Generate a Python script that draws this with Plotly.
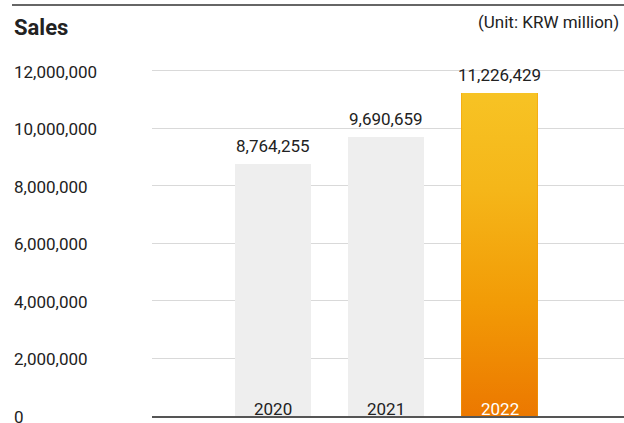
import plotly.graph_objects as go

# data
years = [2020, 2021, 2022]
sales = [8764255, 9690659, 11226429]
tick_vals = [0, 2000000, 4000000, 6000000, 8000000, 10000000, 12000000]

GRAY_BAR = "#EEEEEE"
TEXT = "#222222"
FONT = "Roboto, sans-serif"
GRAD = [[0, "#EC7800"], [0.35, "#F29B06"], [0.7, "#F5B619"], [1, "#F7C324"]]

BAR_W = 0.67
L_MARGIN, R_MARGIN, T_MARGIN, B_MARGIN = 152, 0, 50, 7
W, H = 624, 423
plot_w = W - L_MARGIN - R_MARGIN
plot_h = H - T_MARGIN - B_MARGIN

fig = go.Figure()

fig.add_trace(go.Bar(
    x=years, y=sales, width=BAR_W,
    marker=dict(color=[GRAY_BAR, GRAY_BAR, "#F29B06"], line=dict(width=0)),
    hoverinfo="skip", showlegend=False,
))

# gradient overlay for the latest year
gx, gv = years[-1], sales[-1]
fig.add_trace(go.Scatter(
    x=[gx - BAR_W / 2, gx - BAR_W / 2, gx + BAR_W / 2, gx + BAR_W / 2, gx - BAR_W / 2],
    y=[0, gv, gv, 0, 0],
    mode="lines", fill="toself", line=dict(width=0),
    fillgradient=dict(type="vertical", colorscale=GRAD, start=0, stop=gv),
    hoverinfo="skip", showlegend=False,
))

# value labels above bars
for yr, v in zip(years, sales):
    fig.add_annotation(x=yr, y=v, text=f"{v:,}", showarrow=False, yanchor="bottom", yshift=6,
                       font=dict(size=17, color=TEXT, family=FONT))

# year labels inside the bars
for yr in years:
    fig.add_annotation(x=yr, y=0, text=str(yr), showarrow=False, yanchor="bottom", yshift=-5,
                       font=dict(size=17, color="white" if yr == years[-1] else TEXT, family=FONT))

# left-aligned y tick labels
x_lbl = (12 - L_MARGIN) / plot_w
for t in tick_vals:
    fig.add_annotation(x=x_lbl, xref="paper", y=t, yref="y", text=f"{t:,}", showarrow=False,
                       xanchor="left", yanchor="middle", yshift=-1,
                       font=dict(size=17, color=TEXT, family=FONT))

# header
fig.add_annotation(x=x_lbl, xref="paper", y=(H - B_MARGIN - 27) / plot_h, yref="paper",
                   text="<b>Sales</b>", showarrow=False, xanchor="left", yanchor="middle",
                   font=dict(size=22, color=TEXT, family=FONT))
fig.add_annotation(x=(621 - L_MARGIN) / plot_w, xref="paper", y=(H - B_MARGIN - 22) / plot_h, yref="paper",
                   text="(Unit: KRW million)", showarrow=False, xanchor="right", yanchor="middle",
                   font=dict(size=17, color=TEXT, family=FONT))
fig.add_shape(type="line", xref="paper", yref="paper",
              x0=x_lbl, x1=1.01, y0=(H - B_MARGIN - 5) / plot_h, y1=(H - B_MARGIN - 5) / plot_h,
              line=dict(color="#666666", width=2))

fig.update_layout(
    width=W, height=H,
    margin=dict(l=L_MARGIN, r=R_MARGIN, t=T_MARGIN, b=B_MARGIN, pad=0),
    paper_bgcolor="white", plot_bgcolor="white",
    font=dict(family=FONT, color=TEXT),
    bargap=0,
)
fig.update_xaxes(range=[2018.938, 2023.097], showgrid=False, zeroline=False, showticklabels=False,
                 showline=True, linecolor="#555555", linewidth=2, ticks="")
fig.update_yaxes(range=[0, 12720000], tickvals=tick_vals, showticklabels=False, showgrid=True,
                 gridcolor="#D9D9D9", gridwidth=1, zeroline=False, ticks="")

fig.write_html("out.html", config={"displayModeBar": False},
               post_script="document.body.style.margin='0';document.body.style.overflow='hidden';")
